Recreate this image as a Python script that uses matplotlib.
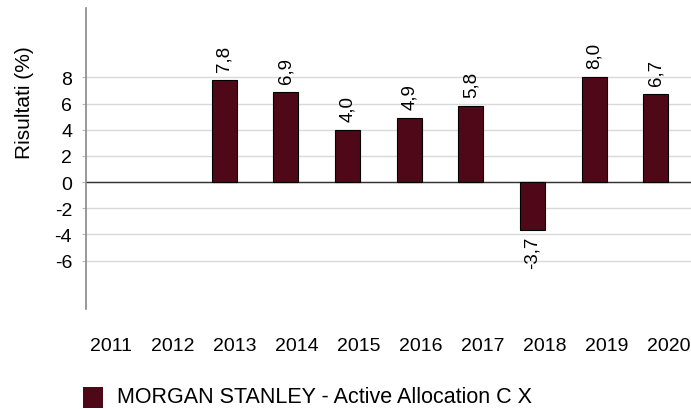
import matplotlib
matplotlib.use("Agg")
import matplotlib.pyplot as plt
from matplotlib.patches import Rectangle

plt.rcParams['font.family'] = ['Liberation Sans', 'DejaVu Sans']

years = ["2011", "2012", "2013", "2014", "2015", "2016", "2017", "2018", "2019", "2020"]
values = [None, None, 7.8, 6.9, 4.0, 4.9, 5.8, -3.7, 8.0, 6.7]
series_name = "MORGAN STANLEY - Active Allocation C X"
yticks = [-6, -4, -2, 0, 2, 4, 6, 8]
color = "#4f0818"

fig = plt.figure(figsize=(6.91, 4.10), dpi=100)
ax = fig.add_axes([86/691, 1 - 310/410, 1 - 86/691, 301/410])

xs = [i for i, v in enumerate(values) if v is not None]
vs = [v for v in values if v is not None]
ax.bar(xs, vs, width=0.41, color=color, edgecolor="black", linewidth=0.8, zorder=3)

for x, v in zip(xs, vs):
    lab = f"{v:.1f}".replace(".", ",")
    if v >= 0:
        ax.annotate(lab, (x, v), xytext=(0, 6.5), textcoords="offset points",
                    rotation=90, ha="center", va="bottom", fontsize=13.5)
    else:
        ax.annotate(lab, (x, v), xytext=(0, -3.5), textcoords="offset points",
                    rotation=90, ha="center", va="top", fontsize=13.5)

ax.set_xlim(-0.24, 9.57)
ax.set_ylim(-9.7, 13.3)
ax.set_yticks(yticks)
ax.set_yticklabels([str(t) for t in yticks], fontsize=14)
ax.grid(axis="y", color="#d9d9d9", linewidth=1, zorder=0)
ax.axhline(0, color="#333333", linewidth=1, zorder=2)
ax.tick_params(axis="y", length=3, color="#bbbbbb", pad=7)
ax.tick_params(axis="x", length=0)
ax.set_xticks(range(len(years)))
ax.set_xticklabels([])
for i, y in enumerate(years):
    fig.text((86 + (i + 0.24) * 62.0 + 10) / 691, 1 - 347/410, y, ha="center", va="center", fontsize=14)

for s in ["top", "right", "bottom"]:
    ax.spines[s].set_visible(False)
ax.spines["left"].set_color("#888888")
ax.spines["left"].set_linewidth(1.2)

ax.set_ylabel("Risultati (%)", fontsize=15)
ax.yaxis.set_label_coords(-0.086, 0.69)

fig.patches.append(Rectangle((83/691, 1 - 409/410), 20/691, 21/410, transform=fig.transFigure,
                             facecolor=color, edgecolor="none"))
fig.text(117/691, 1 - 398/410, series_name, ha="left", va="center", fontsize=15.5)

fig.savefig("out.png", dpi=100)
